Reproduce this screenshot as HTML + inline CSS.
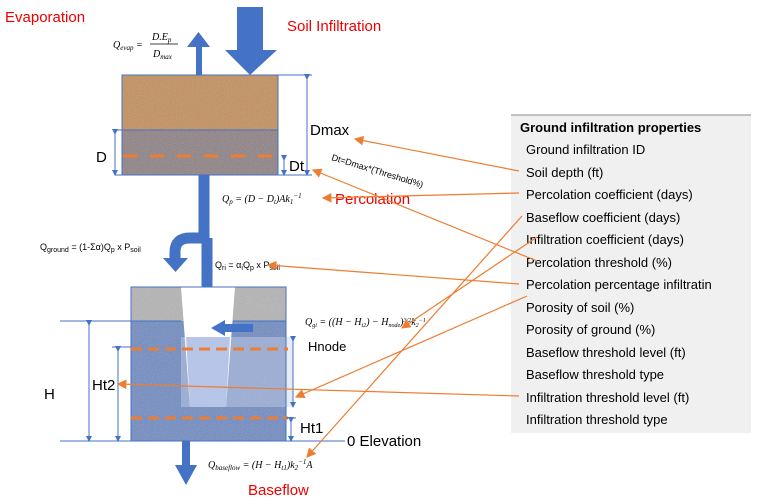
<!DOCTYPE html>
<html><head><meta charset="utf-8"><style>
body{margin:0;background:#fff;width:770px;height:499px;overflow:hidden;font-family:"Liberation Sans",sans-serif}
svg text{font-family:"Liberation Sans",sans-serif}
.f{font-family:"Liberation Serif",serif;font-style:italic;font-size:10px}
</style></head><body>
<svg width="770" height="499" viewBox="0 0 770 499">
<defs>
<marker id="oa" markerWidth="8" markerHeight="8" refX="7" refY="4" orient="auto"><path d="M0,0L8,4L0,8z" fill="#ed7d31"/></marker>
<marker id="ba" markerWidth="6" markerHeight="6" refX="3" refY="3" orient="auto"><path d="M0,0L6,3L0,6z" fill="#4472c4"/></marker>
<filter id="noise" x="0" y="0" width="100%" height="100%"><feTurbulence type="fractalNoise" baseFrequency="0.9" numOctaves="2" result="n"/><feColorMatrix type="saturate" values="0"/><feComponentTransfer><feFuncA type="table" tableValues="0 0.35"/></feComponentTransfer><feComposite in2="SourceGraphic" operator="in"/></filter>
</defs>
<text x="5" y="22" fill="#e00" font-size="15">Evaporation</text>
<text x="287" y="31" fill="#e00" font-size="15">Soil Infiltration</text>
<!-- top soil box -->
<g>
<rect x="122" y="75" width="156" height="55" fill="#c48e5a"/>
<rect x="122" y="75" width="156" height="55" fill="#000" filter="url(#noise)"/>
<rect x="122" y="130" width="156" height="45" fill="#8d8083"/>
<rect x="122" y="130" width="156" height="45" fill="#000" filter="url(#noise)"/>
<rect x="122" y="75" width="156" height="100" fill="none" stroke="#4472c4" stroke-width="1"/>
<line x1="122" y1="130" x2="278" y2="130" stroke="#4472c4"/>
<line x1="123" y1="156" x2="282" y2="156" stroke="#ed7d31" stroke-width="3" stroke-dasharray="14,13"/>
</g>
<!-- evaporation arrow -->
<path d="M196,75V47H187L198.5,32L210,47H202V75z" fill="#4472c4"/>
<!-- infiltration arrow -->
<path d="M237,7H263V50H277L250,75L225,50H237z" fill="#4472c4"/>
<text class="f" x="113" y="48">Q<tspan font-size="7" dy="2">evap</tspan><tspan dy="-2"> = </tspan></text>
<text class="f" x="152" y="40">D.E<tspan font-size="7" dy="2">p</tspan></text>
<line x1="150" y1="44" x2="178" y2="44" stroke="#000" stroke-width="0.8"/>
<text class="f" x="153" y="57">D<tspan font-size="7" dy="2">max</tspan></text>
<!-- dims top -->
<g stroke="#4472c4" stroke-width="1" fill="none">
<line x1="278" y1="75" x2="312" y2="75"/><line x1="278" y1="175" x2="312" y2="175"/>
<line x1="307" y1="77" x2="307" y2="173" marker-start="url(#ba)" marker-end="url(#ba)"/>
<line x1="115" y1="130" x2="122" y2="130"/><line x1="115" y1="175" x2="122" y2="175"/>
<line x1="115" y1="132" x2="115" y2="173" marker-start="url(#ba)" marker-end="url(#ba)"/>
<line x1="284" y1="158" x2="284" y2="173" marker-start="url(#ba)" marker-end="url(#ba)"/>
</g>
<text x="96" y="162" font-size="15">D</text>
<text x="310" y="135" font-size="15">Dmax</text>
<text x="289" y="171" font-size="15">Dt</text>
<text x="331" y="160" font-size="9" transform="rotate(17 331 160)">Dt=Dmax*(Threshold%)</text>
<text class="f" x="222" y="202">Q<tspan font-size="7" dy="2">p</tspan><tspan dy="-2">  = (D − D</tspan><tspan font-size="7" dy="2">t</tspan><tspan dy="-2">)Ak</tspan><tspan font-size="7" dy="2">1</tspan><tspan font-size="7" dy="-6">−1</tspan></text>
<text x="335" y="204" fill="#e00" font-size="15">Percolation</text>
<!-- pipe -->
<g fill="none" stroke="#4472c4">
<path d="M204,175V238H190Q175,238 175,252V262" stroke-width="11"/>
<line x1="207" y1="238" x2="207" y2="302" stroke-width="11"/>
</g>
<path d="M163,258H188L175.5,272z" fill="#4472c4"/>
<path d="M196,300H219L207.5,318z" fill="#4472c4"/>
<text x="40" y="250" font-size="9">Q<tspan font-size="7" dy="2">ground</tspan><tspan dy="-2"> = (1-Σα)Q</tspan><tspan font-size="7" dy="2">p</tspan><tspan dy="-2"> x P</tspan><tspan font-size="7" dy="2">soil</tspan></text>
<text x="215" y="268" font-size="9">Q<tspan font-size="7" dy="2">ri</tspan><tspan dy="-2"> = α</tspan><tspan font-size="7" dy="2">i</tspan><tspan dy="-2">Q</tspan><tspan font-size="7" dy="2">p</tspan><tspan dy="-2"> x P</tspan><tspan font-size="7" dy="2">soil</tspan></text>
<!-- ground box -->
<g>
<rect x="131" y="287" width="155" height="34" fill="#b4b4b4"/>
<rect x="131" y="321" width="155" height="120" fill="#6f8ac2"/>
<rect x="131" y="287" width="155" height="154" fill="#000" filter="url(#noise)"/>
<rect x="181" y="337" width="112" height="70" fill="#c9d3ea" opacity="0.45"/>
<path d="M181,287H235L226,407H190z" fill="#fff"/>
<path d="M186,337H230L226,407H190z" fill="#b7c6e8"/>
<rect x="131" y="287" width="155" height="154" fill="none" stroke="#4472c4"/>
<line x1="131" y1="321" x2="181" y2="321" stroke="#4472c4"/><line x1="233" y1="321" x2="286" y2="321" stroke="#4472c4"/>
<line x1="131" y1="349" x2="288" y2="349" stroke="#ed7d31" stroke-width="3" stroke-dasharray="11,6"/>
<line x1="131" y1="418" x2="288" y2="418" stroke="#ed7d31" stroke-width="3" stroke-dasharray="11,6"/>
</g>
<path d="M253,324H225V320L211,328L225,336V332H253z" fill="#4472c4"/>
<text class="f" x="305" y="325" font-size="8">Q<tspan font-size="6" dy="2">gi</tspan><tspan dy="-2"> = ((H − H</tspan><tspan font-size="6" dy="2">t2</tspan><tspan dy="-2">) − H</tspan><tspan font-size="6" dy="2">node</tspan><tspan dy="-2">)</tspan><tspan font-size="6" dy="-3">3/2</tspan><tspan dy="3">k</tspan><tspan font-size="6" dy="2">2</tspan><tspan font-size="6" dy="-5">−1</tspan></text>
<!-- dims bottom -->
<g stroke="#4472c4" stroke-width="1" fill="none">
<line x1="60" y1="321" x2="131" y2="321"/><line x1="60" y1="441" x2="345" y2="441"/>
<line x1="89" y1="323" x2="89" y2="439" marker-start="url(#ba)" marker-end="url(#ba)"/>
<line x1="112" y1="347" x2="131" y2="347"/>
<line x1="118" y1="349" x2="118" y2="439" marker-start="url(#ba)" marker-end="url(#ba)"/>
<line x1="293" y1="339" x2="293" y2="405" marker-start="url(#ba)" marker-end="url(#ba)"/>
<line x1="291" y1="420" x2="291" y2="439" marker-start="url(#ba)" marker-end="url(#ba)"/>
<line x1="286" y1="418" x2="296" y2="418"/>
</g>
<text x="44" y="399" font-size="15">H</text>
<text x="92" y="390" font-size="15">Ht2</text>
<text x="308" y="351" font-size="13">Hnode</text>
<text x="300" y="433" font-size="15">Ht1</text>
<text x="347" y="446" font-size="15">0 Elevation</text>
<path d="M182,441H190V465H197L186,485L175,465H182z" fill="#4472c4"/>
<text class="f" x="208" y="468">Q<tspan font-size="7" dy="2">baseflow</tspan><tspan dy="-2"> = (H − H</tspan><tspan font-size="7" dy="2">t1</tspan><tspan dy="-2">)k</tspan><tspan font-size="7" dy="2">2</tspan><tspan font-size="7" dy="-6">−1</tspan><tspan dy="4">A</tspan></text>
<text x="248" y="495" fill="#e00" font-size="15">Baseflow</text>
<!-- panel -->
<g>
<rect x="511" y="115" width="240" height="318" fill="#f0f0f0"/>
<line x1="511" y1="115" x2="751" y2="115" stroke="#888"/>
<g font-size="13" fill="#000">
<text x="520" y="132" font-weight="bold">Ground infiltration properties</text>
<text x="526" y="154">Ground infiltration ID</text>
<text x="526" y="177">Soil depth (ft)</text>
<text x="526" y="199">Percolation coefficient (days)</text>
<text x="526" y="222">Baseflow coefficient (days)</text>
<text x="526" y="244">Infiltration coefficient (days)</text>
<text x="526" y="267">Percolation threshold (%)</text>
<text x="526" y="289">Percolation percentage infiltratin</text>
<text x="526" y="312">Porosity of soil (%)</text>
<text x="526" y="334">Porosity of ground (%)</text>
<text x="526" y="357">Baseflow threshold level (ft)</text>
<text x="526" y="379">Baseflow threshold type</text>
<text x="526" y="402">Infiltration threshold level (ft)</text>
<text x="526" y="424">Infiltration threshold type</text>
</g>
</g>
<!-- orange connectors -->
<g stroke="#ed7d31" stroke-width="1.2" fill="none">
<line x1="519" y1="171" x2="355" y2="139" marker-end="url(#oa)"/>
<line x1="519" y1="193" x2="323" y2="198" marker-end="url(#oa)"/>
<line x1="537" y1="261" x2="313" y2="170" marker-end="url(#oa)"/>
<line x1="522" y1="216" x2="307" y2="457" marker-end="url(#oa)"/>
<line x1="537" y1="237" x2="402" y2="328" marker-end="url(#oa)"/>
<line x1="519" y1="284" x2="268" y2="265" marker-end="url(#oa)"/>
<line x1="527" y1="296" x2="296" y2="397" marker-end="url(#oa)"/>
<line x1="519" y1="396" x2="118" y2="384" marker-end="url(#oa)"/>
</g>
</svg>
</body></html>
